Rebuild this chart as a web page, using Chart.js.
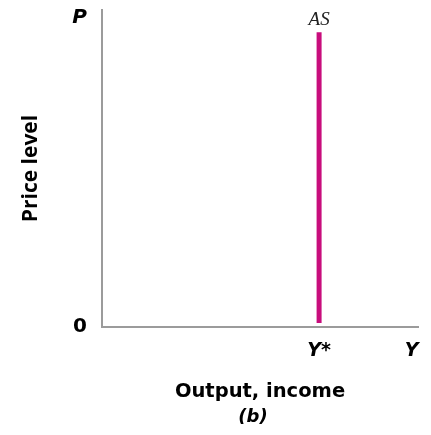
<!DOCTYPE html>
<html>
<head>
<meta charset="utf-8">
<script src="https://cdn.jsdelivr.net/npm/chart.js@4/dist/chart.umd.min.js"></script>
<style>
  html, body { margin: 0; padding: 0; background: #fff; }
  #wrap { width: 431px; height: 435px; }
</style>
</head>
<body>
<div id="wrap"><canvas id="asChart" width="431" height="435"></canvas></div>
<script>
// datos de la curva AS (vertical en Y*)
const asX = [68.7, 68.7];
const asY = [1.3, 93];

// marcas de los ejes
const xTickValues = [68.7, 98];
const xTickLabels = ['Y*', 'Y'];
const yTickValues = [0, 97.6];
const yTickLabels = ['0', 'P'];

const colorAS = '#c80d7c';
const colorEje = '#9b9b9b';

const puntosAS = asX.map((x, i) => ({ x: x, y: asY[i] }));

// etiqueta "AS" arriba de la linea y "(b)" debajo del titulo
const etiquetas = {
  id: 'etiquetas',
  afterDraw(chart) {
    const ctx = chart.ctx;
    const meta = chart.getDatasetMeta(0);
    const top = meta.data[meta.data.length - 1];
    ctx.save();
    ctx.fillStyle = '#222';
    ctx.textAlign = 'center';
    ctx.textBaseline = 'middle';
    ctx.font = 'italic 19px "Liberation Serif"';
    ctx.fillText('AS', top.x, top.y - 12);
    ctx.fillStyle = '#000';
    ctx.font = 'italic bold 18px "DejaVu Sans"';
    const xs = chart.scales.x;
    ctx.fillText('(b)', (xs.left + xs.right) / 2 - 7, 417);
    ctx.restore();
  }
};

new Chart(document.getElementById('asChart'), {
  type: 'scatter',
  data: {
    datasets: [{
      label: 'AS',
      data: puntosAS,
      showLine: true,
      borderColor: colorAS,
      borderWidth: 5,
      borderCapStyle: 'butt',
      pointRadius: 0
    }]
  },
  options: {
    responsive: false,
    animation: false,
    layout: { padding: { top: 10, right: 13, bottom: 0, left: 0 } },
    plugins: { legend: { display: false }, tooltip: { enabled: false } },
    scales: {
      x: {
        min: 0, max: 100,
        grid: { display: false, drawTicks: false },
        border: { display: true, color: colorEje, width: 2 },
        afterBuildTicks: (s) => { s.ticks = xTickValues.map(v => ({ value: v })); },
        afterFit: (s) => { s.height = 108; s.paddingLeft = 0; s.paddingRight = 0; },
        ticks: {
          autoSkip: false,
          maxRotation: 0,
          padding: 13,
          color: '#000',
          font: { family: 'DejaVu Sans', weight: 'bold', style: 'italic', size: 19 },
          callback: (v, i) => xTickLabels[i]
        },
        title: {
          display: true,
          text: 'Output, income',
          color: '#000',
          font: { family: 'DejaVu Sans', weight: 'bold', size: 19.5 },
          padding: { top: 0, bottom: 31 }
        }
      },
      y: {
        min: 0, max: 100,
        grid: { display: false, drawTicks: false },
        border: { display: true, color: colorEje, width: 2 },
        afterBuildTicks: (s) => { s.ticks = yTickValues.map(v => ({ value: v })); },
        afterFit: (s) => { s.width = 102; s.paddingTop = 0; s.paddingBottom = 0; },
        ticks: {
          autoSkip: false,
          padding: 15,
          color: '#000',
          font: (c) => ({ family: 'DejaVu Sans', weight: 'bold', size: 20,
                          style: c.index === 1 ? 'italic' : 'normal' }),
          callback: (v, i) => yTickLabels[i]
        },
        title: {
          display: true,
          text: 'Price level',
          color: '#000',
          font: { family: 'Open Sans', weight: 'bold', size: 21 },
          padding: { top: 18, bottom: 0 }
        }
      }
    }
  },
  plugins: [etiquetas]
});
</script>
</body>
</html>
